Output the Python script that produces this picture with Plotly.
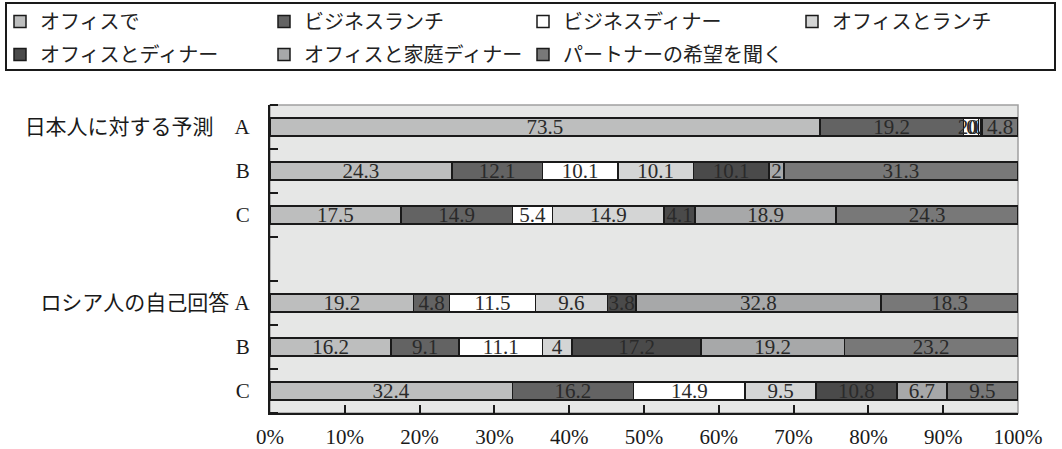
import plotly.graph_objects as go

rows = ["日本人に対する予測　A", "B", "C", "", "ロシア人の自己回答 A", "B", "C"]
series = ["オフィスで", "ビジネスランチ", "ビジネスディナー", "オフィスとランチ",
          "オフィスとディナー", "オフィスと家庭ディナー", "パートナーの希望を聞く"]
colors = ["#bdbebe", "#636363", "#ffffff", "#d4d5d5", "#4a4a4a", "#a7a8a9", "#787878"]

office        = [73.5, 24.3, 17.5, None, 19.2, 16.2, 32.4]
biz_lunch     = [19.2, 12.1, 14.9, None, 4.8, 9.1, 16.2]
biz_dinner    = [2.0, 10.1, 5.4, None, 11.5, 11.1, 14.9]
office_lunch  = [0.3, 10.1, 14.9, None, 9.6, 4, 9.5]
office_dinner = [0.2, 10.1, 4.1, None, 3.8, 17.2, 10.8]
office_home   = [0.0, 2, 18.9, None, 32.8, 19.2, 6.7]
partner       = [4.8, 31.3, 24.3, None, 18.3, 23.2, 9.5]
values = [office, biz_lunch, biz_dinner, office_lunch, office_dinner, office_home, partner]

xticks = [0, 10, 20, 30, 40, 50, 60, 70, 80, 90, 100]
xticktext = [f"{v}%" for v in xticks]

serif = "Liberation Serif, Times New Roman, Noto Sans CJK JP, serif"
cjk = "Liberation Serif, Noto Sans CJK JP, serif"

W, H = 1062, 449
ML, MR, MT, MB = 270, 44, 105, 36
PW, PH = W - ML - MR, H - MT - MB

def px_to_paper_x(px):
    return (px - ML) / PW

def px_to_paper_y(py):
    return (H - MB - py) / PH

legend_cols = [14, 278, 537, 806]
legend_names = ["legend", "legend2", "legend3", "legend4"]

fig = go.Figure()
ypos = list(range(len(rows)))
for i, (name, col, vals) in enumerate(zip(series, colors, values)):
    fig.add_trace(go.Bar(
        name=name, orientation="h", y=ypos, x=vals, width=0.4,
        legend=legend_names[i % 4], legendgroup=name,
        marker=dict(color=col, line=dict(color="#1a1a1a", width=1.5)),
        text=["" if v is None else str(v) for v in vals],
        textposition="inside", insidetextanchor="middle", textangle=0,
        insidetextfont=dict(family=serif, size=21, color="#2a2a2a"),
        hoverinfo="skip",
    ))

legend_common = dict(
    orientation="v", xref="container", yref="container",
    xanchor="left", yanchor="top", y=1 - 2 / H,
    bgcolor="rgba(0,0,0,0)", borderwidth=0, traceorder="grouped",
    tracegroupgap=4,
    font=dict(family=cjk, size=20, color="#222"),
)
legends = {}
for lname, cx in zip(legend_names, legend_cols):
    legends[lname] = dict(legend_common, x=max(cx - 14, 0) / W)

fig.update_layout(
    width=W, height=H,
    margin=dict(l=ML, r=MR, t=MT, b=MB, autoexpand=False),
    barmode="stack",
    plot_bgcolor="#e6e7e6", paper_bgcolor="white",
    uniformtext=dict(mode="show", minsize=21),
    showlegend=True,
    xaxis=dict(
        range=[0, 100], tickvals=xticks, ticktext=xticktext,
        ticks="inside", ticklen=8, tickwidth=1.5, tickcolor="#1a1a1a",
        showline=True, linecolor="#1a1a1a", linewidth=2,
        showgrid=False, zeroline=False, fixedrange=True,
        tickfont=dict(family=serif, size=21, color="#1a1a1a"),
        ticklabelstandoff=4,
    ),
    yaxis=dict(
        range=[6.5, -0.5], tickvals=ypos, ticktext=rows, ticks="",
        showline=True, linecolor="#1a1a1a", linewidth=2,
        showgrid=False, zeroline=False,
        minor=dict(tickmode="array", tickvals=[i - 0.5 for i in range(len(rows) + 1)],
                   ticks="inside", ticklen=8, tickwidth=1.5, tickcolor="#1a1a1a"),
        tickfont=dict(family=cjk, size=21, color="#1a1a1a"),
        ticklabelstandoff=14,
    ),
    shapes=[
        dict(type="rect", xref="paper", yref="paper", x0=0, x1=1, y0=0, y1=1,
             line=dict(color="#a0a0a0", width=1.5), layer="below"),
        dict(type="rect", xref="paper", yref="paper",
             x0=px_to_paper_x(6), x1=px_to_paper_x(1055),
             y0=px_to_paper_y(70), y1=px_to_paper_y(3),
             line=dict(color="#1a1a1a", width=2), layer="above"),
    ],
    **legends,
)

fig.write_html("out.html")
